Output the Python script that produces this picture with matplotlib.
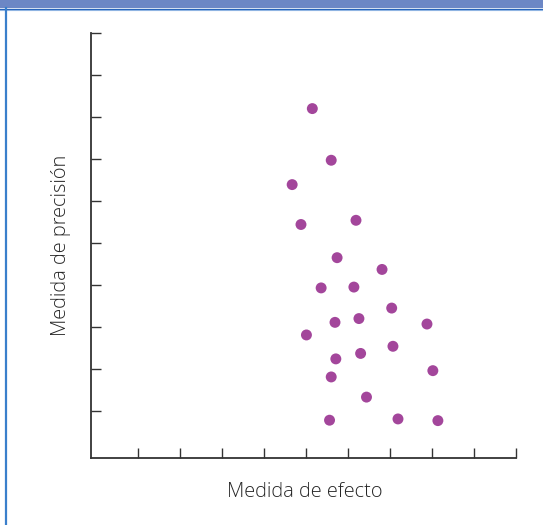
import matplotlib
matplotlib.use("Agg")
import matplotlib.pyplot as plt
from matplotlib.patches import Rectangle
from matplotlib.lines import Line2D

# Effect size vs precision for each study
effect = [5.15, 5.60, 4.67, 4.88, 6.19, 5.74, 6.81, 5.36, 6.14, 7.04, 5.69, 6.26,
          7.88, 5.01, 5.71, 6.30, 7.07, 5.60, 8.02, 6.44, 5.56, 7.19, 8.14]
precision = [8.20, 6.97, 6.39, 5.44, 5.54, 4.65, 4.37, 3.93, 3.95, 3.45, 3.11, 3.20,
             3.07, 2.81, 2.24, 2.37, 2.54, 1.81, 1.96, 1.33, 0.78, 0.81, 0.77]
tick_pos = list(range(1, 11))

plt.rcParams["font.family"] = ["Open Sans", "DejaVu Sans"]
text_col = "#333333"
dot_col = "#a3469b"

fig = plt.figure(figsize=(5.43, 5.25), dpi=100)

# panel frame: header strip and left border
fig.patches.append(Rectangle((0, 1 - 8 / 525), 1, 8 / 525, transform=fig.transFigure,
                             facecolor="#6c87c5", edgecolor="none"))
fig.lines.append(Line2D([0, 1], [1 - 8.5 / 525] * 2, transform=fig.transFigure,
                        color="#2360b8", linewidth=1.0))
fig.lines.append(Line2D([0, 1], [1 - 9.5 / 525] * 2, transform=fig.transFigure,
                        color="#8fb4e2", linewidth=0.8))
fig.lines.append(Line2D([5.8 / 543] * 2, [0, 1 - 8 / 525], transform=fig.transFigure,
                        color="#3a7fcb", linewidth=1.6))

ax = fig.add_axes([91 / 543, 1 - 458 / 525, 425 / 543, 425 / 525])
ax.scatter(effect, precision, s=62, color=dot_col, edgecolors="none", zorder=3)

ax.set_xlim(-0.12, 10)
ax.set_ylim(-0.12, 10)
ax.set_xticks(tick_pos)
ax.set_yticks(tick_pos)
ax.tick_params(direction="in", length=7.5, width=1.0, color=text_col,
               labelbottom=False, labelleft=False)
for side in ("top", "right"):
    ax.spines[side].set_visible(False)
for side in ("left", "bottom"):
    ax.spines[side].set_color(text_col)
    ax.spines[side].set_linewidth(1.3)

fig.text(305 / 543, 1 - 492 / 525, "Medida de efecto", ha="center", va="center",
         fontsize=14.4, fontweight="light", color="#262626")
fig.text(61 / 543, 1 - 245 / 525, "Medida de precisión", ha="center", va="center",
         rotation=90, fontsize=14.4, fontweight="light", color="#262626")

fig.savefig("out.png", dpi=100)
